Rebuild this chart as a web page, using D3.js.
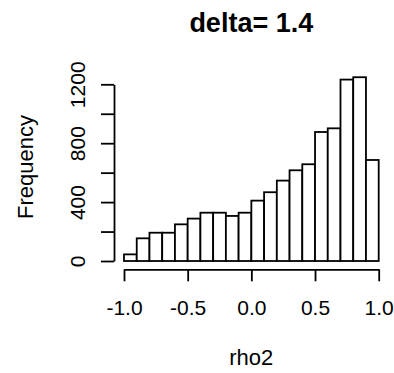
<!DOCTYPE html>
<html lang="en">
<head>
    <meta charset="UTF-8">
    <title>delta= 1.4</title>
    <script src="https://cdn.jsdelivr.net/npm/d3@7/dist/d3.min.js"></script>
    <style>
        body {
            margin: 0;
            background: #fff;
        }
        .bar {
            fill: #fff;
            stroke: #000;
            stroke-width: 1.8px;
        }
        .axis path, .axis line {
            stroke: #000;
            stroke-width: 1.8px;
        }
        .axis text, .label {
            font-family: "Liberation Sans", Arial, sans-serif;
            fill: #000;
        }
    </style>
</head>
<body>
    <div id="chart"></div>
    <script>
        // histogram bins (rho2) and counts
        const binEdges = [-1.0, -0.9, -0.8, -0.7, -0.6, -0.5, -0.4, -0.3, -0.2, -0.1, 0.0,
                          0.1, 0.2, 0.3, 0.4, 0.5, 0.6, 0.7, 0.8, 0.9, 1.0];
        const counts = [45, 154, 192, 192, 249, 288, 328, 328, 306, 328,
                        410, 467, 546, 616, 657, 876, 901, 1232, 1248, 686];

        const xTicks = [-1.0, -0.5, 0.0, 0.5, 1.0];
        const xTickLabels = ["-1.0", "-0.5", "0.0", "0.5", "1.0"];
        const yTicks = [0, 200, 400, 600, 800, 1000, 1200];
        const yTickLabels = ["0", "", "400", "", "800", "", "1200"];

        const width = 394;
        const height = 373;

        const svg = d3.select("#chart")
            .append("svg")
            .attr("width", width)
            .attr("height", height);

        const x = d3.scaleLinear()
            .domain([-1, 1])
            .range([124, 378.7]);

        const y = d3.scaleLinear()
            .domain([0, 1200])
            .range([261, 84.3]);

        // bars
        const bins = counts.map((c, i) => ({ x0: binEdges[i], x1: binEdges[i + 1], count: c }));
        svg.selectAll(".bar")
            .data(bins)
            .enter()
            .append("rect")
            .attr("class", "bar")
            .attr("x", d => x(d.x0))
            .attr("y", d => y(d.count))
            .attr("width", d => x(d.x1) - x(d.x0))
            .attr("height", d => y(0) - y(d.count));

        // x axis
        const xAxis = svg.append("g")
            .attr("class", "axis")
            .attr("transform", "translate(0,269.3)")
            .call(d3.axisBottom(x)
                .tickValues(xTicks)
                .tickFormat((d, i) => xTickLabels[i])
                .tickSize(12)
                .tickSizeOuter(0));
        xAxis.attr("font-size", null).attr("font-family", null);
        xAxis.selectAll("text")
            .attr("font-size", "21px")
            .attr("y", 45.5)
            .attr("dy", null);

        // y axis
        const yAxis = svg.append("g")
            .attr("class", "axis")
            .attr("transform", "translate(114,0)")
            .call(d3.axisLeft(y)
                .tickValues(yTicks)
                .tickFormat((d, i) => yTickLabels[i])
                .tickSize(13)
                .tickSizeOuter(0));
        yAxis.attr("font-size", null).attr("font-family", null);
        yAxis.selectAll("text")
            .attr("font-size", "21px")
            .attr("x", null)
            .attr("dy", null)
            .attr("text-anchor", "middle")
            .attr("transform", "translate(-29,0) rotate(-90)");

        // titles
        svg.append("text")
            .attr("class", "label")
            .attr("x", 251.3)
            .attr("y", 31.5)
            .attr("text-anchor", "middle")
            .attr("font-size", "27px")
            .attr("font-weight", "bold")
            .text("delta= 1.4");

        svg.append("text")
            .attr("class", "label")
            .attr("x", 251.3)
            .attr("y", 365)
            .attr("text-anchor", "middle")
            .attr("font-size", "22px")
            .text("rho2");

        svg.append("text")
            .attr("class", "label")
            .attr("transform", "translate(33,167) rotate(-90)")
            .attr("text-anchor", "middle")
            .attr("font-size", "22px")
            .text("Frequency");
    </script>
</body>
</html>
